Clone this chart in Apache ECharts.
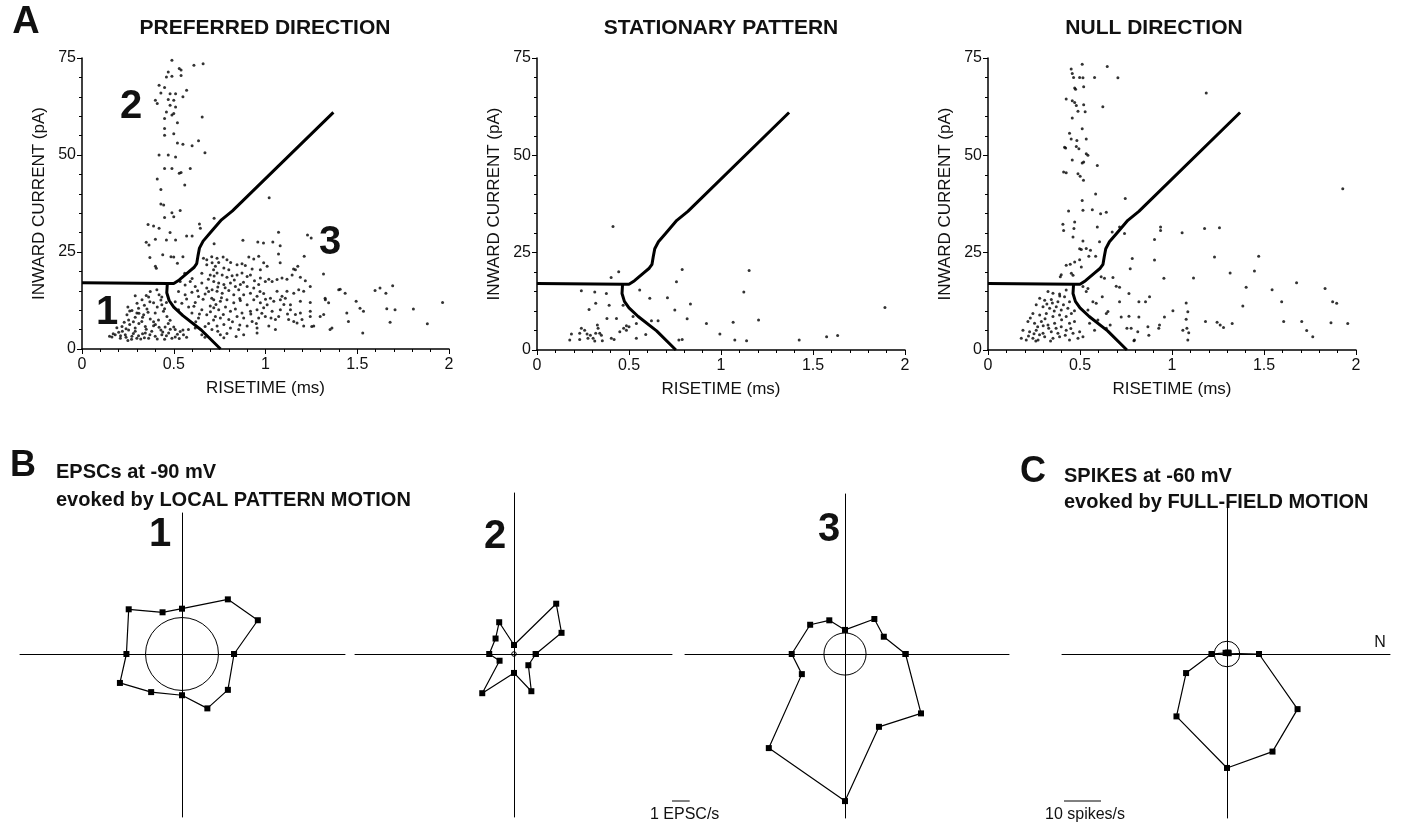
<!DOCTYPE html>
<html><head><meta charset="utf-8">
<script src="https://cdn.jsdelivr.net/npm/echarts@6.0.0/dist/echarts.min.js"></script>
<style>html,body{margin:0;padding:0;background:#fff}#c{width:1402px;height:822px}</style>
</head><body><div id="c"></div><script>
// ---------- DATA ----------
const xTickLabels = ['0', '0.5', '1', '1.5', '2'];
const yTickLabels = ['0', '25', '50', '75'];
const panelTitles = ['PREFERRED DIRECTION', 'STATIONARY PATTERN', 'NULL DIRECTION'];

// EPSC events: [risetime ms, inward current pA]
const preferredPts = [
 [0.49,74.4],[0.61,73.1],[0.66,73.5],[0.53,72.3],[0.54,71.9],[0.47,71.4],[0.49,70.3],[0.54,70.5],[0.46,70.1],[0.42,68],[0.45,67.4],[0.57,66.7],[0.43,66],[0.48,65.8],[0.51,65.8],[0.55,65],[0.40,64.1],[0.41,63.3],[0.47,64.3],[0.50,64.1],[0.48,62.8],[0.51,62.4],[0.46,61.1],[0.50,60.7],[0.655,59.8],[0.45,59.4],[0.49,60.3],[0.52,58.3],[0.45,56.8],[0.50,55.5],[0.45,55.1],[0.52,53.1],[0.55,52.8],[0.60,52.4],[0.635,53.7],[0.67,50.6],[0.42,50],[0.47,50],[0.51,49.5],[0.45,46.5],[0.49,46.5],[0.53,45.3],[0.54,45.5],[0.59,46.5],[0.56,42.3],[0.41,43.8],[0.43,41.1],[0.43,37.4],[0.445,37.1],[0.535,35.7],[0.49,35.1],[0.50,34.1],[0.45,33.9],[0.36,32.1],[0.39,31.7],[0.42,31.1],[0.48,30],[0.57,29.1],[0.60,29.1],[0.64,32.2],[0.645,31.1],[0.72,33.7],[0.35,27.5],[0.365,26.8],[0.40,28.3],[0.46,28.1],[0.51,28.1],[0.37,23.6],[0.44,24.3],[0.485,23.8],[0.50,23.7],[0.55,23.8],[0.405,20.8],[0.52,22.1],[0.40,21.3],
 [1.02,39],[0.68,23],[1.071,30.1],[0.877,28],[0.958,27.6],[0.989,27.3],[1.04,27.6],[1.08,26.6],[1.229,29.4],[1.249,28.6],[0.72,27.1],[1.071,24.5],[1.08,22.2],[1.211,23.9],[1.176,21.3],[1.153,20.6],[1.316,19.3],
 [0.736,23.4],[0.769,23.7],[0.79,23.0],[0.81,22.3],[0.845,21.7],[0.872,22.0],[0.89,21.5],[0.909,23.7],[0.936,23.2],[0.963,23.9],[0.99,22.2],[1.009,21.3],[0.972,20.4],[0.927,20.6],[0.709,22.2],[0.727,21.3],[0.745,22.3],
 [0.773,20.9],[0.80,20.4],[0.736,19.6],[0.764,19.1],[0.79,18.5],[0.818,18.9],[0.845,19.1],[0.872,19.6],[0.90,18.7],[0.918,19.1],[0.972,18.3],[0.999,17.4],[1.018,18.0],[1.036,17.4],[1.063,17.9],[1.09,18.3],[1.117,18.0],[1.145,19.1],[1.163,20.4],[1.19,18.5],[1.217,17.6],
 [0.718,17.4],[0.745,17.0],[0.773,16.6],[0.809,17.0],[0.836,16.1],[0.863,16.6],[0.90,16.1],[0.936,15.7],[0.963,16.6],[0.709,15.3],[0.736,14.9],[0.764,14.4],[0.80,15.1],[0.827,14.0],[0.854,15.3],[0.881,14.0],[0.918,14.4],[0.954,13.6],[0.99,14.3],[1.027,13.1],[1.063,14.9],[1.09,13.6],[1.117,14.9],[1.154,14.4],[1.181,15.3],[1.208,14.9],[1.244,16.1],
 [0.718,12.7],[0.754,12.3],[0.79,12.7],[0.827,11.9],[0.863,12.5],[0.90,11.4],[0.936,12.7],[0.972,11.9],[1.009,11.4],[1.045,12.3],[1.081,12.7],[1.108,13.1],[1.136,11.4],[1.19,12.3],[1.244,12.0],[1.326,12.7],[1.344,11.9],[1.399,15.3],
 [0.718,10.6],[0.745,10.1],[0.782,10.8],[0.809,9.7],[0.836,10.3],[0.872,9.3],[0.918,9.7],[0.954,10.1],[0.99,10.6],[1.036,9.7],[1.081,10.1],[1.136,10.1],[1.163,8.9],[1.19,9.3],[1.244,9.7],[1.317,8.9],
 [0.727,8.4],[0.754,8.0],[0.80,7.6],[0.845,8.4],[0.881,8.0],[0.927,7.1],[0.963,8.0],[0.999,8.4],[1.054,7.6],[1.072,8.4],[1.126,7.6],[1.154,7.1],[1.199,7.6],[1.244,8.4],
 [0.736,5.9],[0.773,6.3],[0.809,5.4],[0.854,5.0],[0.90,5.9],[0.954,5.4],[1.018,5.9],[1.054,5.0],[1.172,6.7],[1.208,5.9],[1.263,5.9],[1.362,5.4],
 [0.754,3.7],[0.773,2.9],[0.881,3.7],[0.954,4.1],
 [0.535,17.4],[0.562,16.5],[0.59,17.4],[0.617,16.1],[0.653,17.0],[0.689,18.0],[0.68,15.7],[0.526,14.8],[0.562,14.0],[0.599,14.6],[0.635,13.5],[0.671,14.2],[0.707,13.1],[0.508,12.2],[0.544,11.8],[0.581,10.8],[0.617,12.0],[0.653,10.1],[0.699,11.1],[0.526,10.1],[0.599,9.3],[0.635,8.0],[0.68,8.8],[0.717,7.5],[0.671,5.8],[0.708,5.0],[0.617,5.4],[0.653,3.7],
 [0.662,23.4],[0.707,23.8],[0.68,21.7],[0.717,20.4],[0.653,19.5],[0.699,19.1],
 [0.56,19.5],[0.60,18.2],[0.63,15.0],[0.66,12.8],[0.69,14.8],[0.72,18.8],[0.74,16.0],[0.57,12.9],[0.61,11.0],[0.64,9.0],[0.70,9.6],[0.73,11.5],[0.76,13.2],[0.78,15.8],[0.83,17.8],[0.86,13.0],[0.88,17.2],[0.94,17.6],[0.97,14.8],[1.00,12.8],[0.77,8.9],[0.82,7.0],[0.86,6.2],[0.92,9.0],[0.95,6.6],[0.98,9.2],[1.03,8.0],[1.10,11.5],[1.12,9.0],[0.69,6.6],[0.74,4.6],[0.79,4.0],[0.67,3.0],[0.84,3.2],[0.62,7.0],
 [0.372,14.8],[0.408,15.3],[0.29,13.7],[0.327,12.7],[0.363,13.4],[0.435,13.4],[0.308,10.5],[0.354,10.3],[0.272,9.9],[0.299,9.3],[0.245,8.8],[0.435,11.4],[0.444,9.7],[0.399,9.3],[0.336,8.8],[0.29,8.2],[0.254,7.5],[0.372,7.7],[0.417,7.5],[0.463,8.4],[0.326,7.1],[0.218,5.8],[0.254,4.9],[0.29,5.4],[0.345,5.8],[0.39,6.0],[0.453,5.7],[0.481,5.1],[0.508,5.0],[0.535,4.5],[0.236,3.7],[0.2,4.3],[0.272,3.3],[0.308,3.4],[0.345,4.1],[0.399,3.3],[0.435,3.7],[0.472,4.1],[0.508,3.1],[0.553,3.7],[0.58,5.0],[0.163,3.1],[0.181,3.7],[0.209,2.8],[0.299,2.8],[0.363,2.8],[0.49,2.8],
 [0.22,4.6],[0.24,5.2],[0.26,6.3],[0.28,4.0],[0.31,6.6],[0.33,3.9],[0.35,5.1],[0.38,4.6],[0.40,6.3],[0.42,5.6],[0.44,4.4],[0.47,6.6],[0.50,5.7],[0.52,3.8],[0.55,4.9],[0.57,3.0],[0.24,3.0],[0.27,2.5],[0.32,2.6],[0.45,2.5],[0.53,2.7],[0.30,11.8],[0.34,11.3],[0.37,12.2],[0.41,10.8],[0.39,11.9],[0.43,12.6],[0.28,7.0],[0.33,8.2],[0.36,9.5],[0.45,10.4],[0.26,9.8],[0.23,6.9],[0.19,5.5],[0.17,3.9],[0.15,3.3],
 [0.21,3.4],[0.25,2.2],[0.29,4.6],[0.34,2.9],[0.37,3.7],[0.41,2.6],[0.43,4.9],[0.46,3.4],[0.48,7.4],[0.39,7.0],[0.31,9.2],[0.25,10.8],[0.35,13.8],[0.42,14.0],[0.46,12.0],
 [1.407,15.4],[1.434,14.4],[1.443,9.3],[1.452,7.1],[1.494,12.3],[1.515,10.5],[1.534,9.7],[1.53,4.1],[1.597,15.1],[1.624,15.7],[1.656,14.4],[1.661,10.4],[1.693,16.3],[1.706,10.1],[1.679,6.9],[1.806,10.3],[1.882,6.5],[1.965,12.0],[1.352,5.0],[1.252,5.8],[1.298,8.4],[1.325,13.1]
];

const stationaryPts = [
 [0.413,31.7],[0.444,20.1],[0.403,18.6],[0.241,15.2],[0.314,14.9],[0.377,14.5],[0.319,12.0],[0.392,11.5],[0.468,11.5],[0.283,10.4],[0.38,8.1],[0.432,8.1],[0.522,8.6],[0.558,15.4],[0.613,13.3],[0.709,13.4],[0.622,7.5],[0.658,7.5],[0.54,6.8],[0.5,6.0],[0.486,5.1],[0.45,4.7],[0.471,5.6],[0.591,4.0],[0.54,3.0],[0.241,5.6],[0.259,5.1],[0.328,6.4],[0.332,5.6],[0.187,4.1],[0.232,4.3],[0.272,4.1],[0.29,3.8],[0.319,4.3],[0.341,4.3],[0.35,3.8],[0.305,3.0],[0.178,2.6],[0.232,2.7],[0.277,3.0],[0.314,2.3],[0.355,2.4],[0.404,3.0],[0.419,2.7],[0.758,17.5],[0.789,20.7],[0.749,10.3],[0.834,11.8],[0.816,8.0],[0.771,2.6],[0.789,2.7],[0.921,6.8],[0.994,4.1],[1.066,7.1],[1.075,2.6],[1.139,2.4],[1.124,14.9],[1.153,20.4],[1.204,7.7],[1.425,2.6],[1.574,3.4],[1.634,3.7],[1.891,10.9],[0.486,6.2]
];

const nullPts = [
 [0.429,76.0],[0.452,72.2],[0.512,73.4],[0.648,72.8],[0.458,71.0],[0.465,70.0],[0.498,70.0],[0.516,69.9],[0.579,70.0],[0.706,69.9],[0.471,67.3],[0.476,67.0],[0.52,67.6],[1.186,66.0],[0.425,64.5],[0.458,64.0],[0.471,63.6],[0.48,62.8],[0.52,63.0],[0.624,62.5],[0.489,61.3],[0.528,61.2],[0.458,59.6],[0.512,56.8],[0.443,55.7],[0.452,54.2],[0.483,53.8],[0.534,54.2],[0.416,52.1],[0.422,51.9],[0.48,52.3],[0.494,51.7],[0.534,50.4],[0.543,50.0],[0.458,48.8],[0.512,48.0],[0.52,48.3],[0.594,47.4],[0.411,45.7],[0.425,45.5],[0.489,45.3],[0.501,44.6],[0.519,43.6],[0.585,40.1],[0.512,38.4],[0.746,38.9],[0.438,35.7],[0.516,35.9],[0.567,36.0],[0.612,35.0],[0.643,35.4],[0.407,32.3],[0.411,30.7],[0.471,32.9],[0.467,31.2],[0.594,31.6],[0.675,30.3],[0.715,31.6],[0.742,29.9],[0.462,29.0],[0.516,28.0],[0.606,27.8],[0.498,26.0],[0.507,25.8],[0.557,25.6],[0.548,24.1],[0.585,24.1],[0.498,23.2],[0.425,21.8],[0.447,22.0],[0.471,22.6],[0.507,21.3],[0.393,18.8],[0.462,19.2],[0.398,19.3],[0.453,19.7],[0.534,26.1],
 [0.938,31.6],[0.938,30.7],[1.055,30.1],[1.177,31.2],[1.258,31.4],[0.905,28.4],[0.905,23.1],[0.784,23.5],[0.773,20.9],[1.231,23.9],[1.471,24.1],[1.316,19.8],[1.448,20.3],[0.956,18.4],[1.117,18.5],[1.403,16.1],[1.544,15.5],[1.677,17.3],[1.832,15.8],[1.873,12.4],[1.895,12.0],[1.928,41.4],[1.596,12.4],[1.385,11.3],[1.005,10.1],[1.077,12.1],[1.086,9.8],[1.077,7.9],[1.081,5.6],[1.091,4.4],[1.086,2.6],[1.059,5.1],[1.182,7.3],[1.245,7.1],[1.262,6.4],[1.28,5.8],[1.327,6.8],[1.607,7.3],[1.705,7.3],[1.732,5.0],[1.765,3.4],[1.864,7.0],[1.955,6.8],
 [0.615,18.8],[0.633,18.4],[0.679,18.6],[0.697,16.4],[0.715,16.1],[0.766,14.5],[0.82,12.4],[0.856,12.4],[0.878,13.7],[0.621,13.7],[0.588,12.0],[0.643,9.4],[0.715,12.4],[0.724,8.5],[0.766,8.7],[0.82,8.5],[0.664,6.4],[0.778,5.6],[0.814,4.7],[0.869,6.0],[0.874,3.8],[0.932,6.4],[0.928,5.6],[0.793,2.4],[0.959,8.5],[0.543,15.8],[0.516,16.3],[0.534,15.0],[0.57,12.4],[0.543,10.3],[0.597,7.7],[0.552,6.9],[0.579,5.1],[0.652,9.9],[0.755,5.6],[0.643,5.6],[0.796,2.6],
 [0.326,15.0],[0.353,14.6],[0.389,14.4],[0.425,15.4],[0.281,13.3],[0.308,12.8],[0.344,13.0],[0.38,12.4],[0.416,13.7],[0.443,12.4],[0.262,11.6],[0.299,11.1],[0.335,10.7],[0.371,11.1],[0.398,10.3],[0.434,10.7],[0.244,9.4],[0.281,9.0],[0.317,9.4],[0.353,8.6],[0.389,9.0],[0.425,8.6],[0.453,9.4],[0.217,7.3],[0.253,6.9],[0.29,7.3],[0.326,6.4],[0.362,6.9],[0.398,6.0],[0.443,6.9],[0.47,7.3],[0.19,5.1],[0.226,4.7],[0.262,5.1],[0.299,4.3],[0.344,4.7],[0.38,4.3],[0.425,5.1],[0.462,4.3],[0.498,4.7],[0.181,3.0],[0.208,2.6],[0.244,3.0],[0.272,2.6],[0.308,3.4],[0.353,3.0],[0.389,3.4],[0.443,2.6],[0.489,3.0],[0.516,3.4],
 [0.23,8.2],[0.27,6.0],[0.31,8.0],[0.33,5.6],[0.36,10.0],[0.40,7.8],[0.28,3.9],[0.32,11.8],[0.37,5.6],[0.41,11.6],[0.45,5.5],[0.22,3.6],[0.25,4.2],[0.30,6.2],[0.35,12.1],[0.42,3.8],[0.47,10.1],[0.39,13.9],[0.26,2.3],[0.34,2.3]
];

// decision boundaries [risetime, current]
const boundaryUpper = [[0,17.1],[0.47,16.9],[0.50,16.9],[0.53,17.8],[0.58,19.8],[0.61,21.0],[0.625,22.0],[0.632,24.0],[0.64,26.0],[0.66,27.8],[0.70,30.0],[0.76,33.3],[0.82,35.6],[1.37,61.0]];
const boundaryLower = [[0.465,16.9],[0.462,14.5],[0.475,12.5],[0.50,10.8],[0.55,8.6],[0.65,4.9],[0.755,0]];

// polar tuning: plotted directions (deg) and rates
const directionsDeg = [0, 24, 50, 90, 115, 140, 180, 205, 231, 270, 295, 322];
const rateB1 = [2.94, 4.69, 4.03, 2.56, 2.60, 3.93, 3.14, 3.87, 2.77, 2.33, 3.39, 3.29]; // EPSC/s
const rateB2 = [1.23, 2.94, 3.71, 0.51, 1.98, 1.36, 1.40, 0.90, 2.85, 1.07, 2.32, 1.03];
const rateB3 = [3.42, 2.40, 2.58, 1.36, 2.10, 2.57, 3.01, 2.69, 6.84, 8.31, 4.54, 5.45];
const spikesC = [8.65, 0.5, 0.5, 0.3, 0.3, 0.5, 4.2, 12.2, 21.7, 30.8, 29.1, 24.2]; // spikes/s
const spontRates = [2.06, 0.13, 1.19, 3.45];
const scaleBars = [{value: 1, label: '1 EPSC/s'}, {value: 10, label: '10 spikes/s'}];

// ---------- LAYOUT ----------
const FONT = "'Liberation Sans', Arial, sans-serif";
const topGrids = [
  {left: 82, top: 58, width: 367, height: 291},
  {left: 537, top: 58, width: 368, height: 292},
  {left: 988, top: 58, width: 368, height: 292}
];
const titleX = [265, 721, 1154];
const PPU_B = 17.7, PPU_C = 3.7;
const polarLayout = [
  {cx: 182, cy: 654, l: 20, r: 345, t: 513, b: 817, ppu: PPU_B},
  {cx: 514, cy: 654, l: 355, r: 672, t: 493, b: 817, ppu: PPU_B},
  {cx: 845, cy: 654, l: 685, r: 1009, t: 494, b: 818, ppu: PPU_B},
  {cx: 1227, cy: 654, l: 1062, r: 1390, t: 504, b: 818, ppu: PPU_C}
];
const polarRates = [rateB1, rateB2, rateB3, spikesC];

const grid = [], xAxis = [], yAxis = [], series = [];
const ptSets = [preferredPts, stationaryPts, nullPts];

topGrids.forEach((g, i) => {
  grid.push(Object.assign({containLabel: false}, g));
  xAxis.push({
    gridIndex: i, type: 'value', min: 0, max: 2, interval: 0.5,
    name: 'RISETIME (ms)', nameLocation: 'middle', nameGap: 31,
    nameTextStyle: {fontSize: 17, color: '#111', fontFamily: FONT},
    axisLine: {onZero: false, lineStyle: {color: '#000', width: 1.5}},
    axisTick: {show: true, length: 5, lineStyle: {color: '#000', width: 1}},
    minorTick: {show: true, splitNumber: 5, length: 3, lineStyle: {color: '#000', width: 1}},
    splitLine: {show: false},
    axisLabel: {fontSize: 16, color: '#111', fontFamily: FONT, margin: 8,
      formatter: v => xTickLabels[Math.round(v / 0.5)]}
  });
  yAxis.push({
    gridIndex: i, type: 'value', min: 0, max: 75, interval: 25,
    name: 'INWARD CURRENT (pA)', nameLocation: 'middle', nameGap: 34, nameRotate: 90,
    nameTextStyle: {fontSize: 17, color: '#111', fontFamily: FONT},
    axisLine: {onZero: false, lineStyle: {color: '#000', width: 1.5}},
    axisTick: {show: true, length: 5, lineStyle: {color: '#000', width: 1}},
    minorTick: {show: true, splitNumber: 5, length: 3, lineStyle: {color: '#000', width: 1}},
    splitLine: {show: false},
    axisLabel: {fontSize: 16, color: '#111', fontFamily: FONT, margin: 6,
      formatter: v => yTickLabels[Math.round(v / 25)]}
  });
  series.push({
    type: 'scatter', xAxisIndex: i, yAxisIndex: i, data: ptSets[i],
    symbol: 'circle', symbolSize: 3, itemStyle: {color: '#000'}, silent: true
  });
  series.push({
    type: 'line', xAxisIndex: i, yAxisIndex: i, data: boundaryUpper, showSymbol: false,
    lineStyle: {color: '#000', width: 3}, silent: true, z: 5
  });
  series.push({
    type: 'line', xAxisIndex: i, yAxisIndex: i, data: boundaryLower, showSymbol: false,
    lineStyle: {color: '#000', width: 3}, silent: true, z: 5
  });
});

polarLayout.forEach((p, k) => {
  const gi = 3 + k;
  grid.push({left: p.l, top: p.t, width: p.r - p.l, height: p.b - p.t, containLabel: false});
  const hidden = {show: false};
  xAxis.push({gridIndex: gi, type: 'value', min: (p.l - p.cx) / p.ppu, max: (p.r - p.cx) / p.ppu,
    axisLine: {onZero: true, lineStyle: {color: '#000', width: 1}}, axisTick: hidden, axisLabel: hidden, splitLine: hidden});
  yAxis.push({gridIndex: gi, type: 'value', min: (p.cy - p.b) / p.ppu, max: (p.cy - p.t) / p.ppu,
    axisLine: {onZero: true, lineStyle: {color: '#000', width: 1}}, axisTick: hidden, axisLabel: hidden, splitLine: hidden});
  const rates = polarRates[k];
  const pts = directionsDeg.map((d, i) => [rates[i] * Math.cos(d * Math.PI / 180), rates[i] * Math.sin(d * Math.PI / 180)]);
  pts.push(pts[0]);
  series.push({
    type: 'line', xAxisIndex: gi, yAxisIndex: gi, data: pts, symbol: 'rect', symbolSize: 6,
    showAllSymbol: true, lineStyle: {color: '#000', width: 1.2}, itemStyle: {color: '#000'}, silent: true, z: 4
  });
  series.push({
    type: 'custom', xAxisIndex: gi, yAxisIndex: gi, data: [[spontRates[k], 0]], silent: true, clip: false, z: 3,
    renderItem: (params, api) => {
      const c = api.coord([0, 0]);
      const e = api.coord([api.value(0), 0]);
      return {type: 'circle', shape: {cx: c[0], cy: c[1], r: Math.abs(e[0] - c[0])},
        style: {fill: 'none', stroke: '#000', lineWidth: 1}};
    }
  });
});

function txt(x, y, text, font, align) {
  return {type: 'text', x: x, y: y, silent: true,
    style: {text: text, font: font, fill: '#111', align: align || 'center', verticalAlign: 'middle',
      textAlign: align || 'center', textVerticalAlign: 'middle'}};
}
const graphics = [
  txt(26, 23, 'A', 'bold 38px ' + FONT),
  txt(titleX[0], 28, panelTitles[0], 'bold 21px ' + FONT),
  txt(titleX[1], 28, panelTitles[1], 'bold 21px ' + FONT),
  txt(titleX[2], 28, panelTitles[2], 'bold 21px ' + FONT),
  txt(131, 107, '2', 'bold 40px ' + FONT),
  txt(330, 243, '3', 'bold 40px ' + FONT),
  txt(107, 313, '1', 'bold 40px ' + FONT),
  txt(23, 466, 'B', 'bold 36px ' + FONT),
  txt(56, 472, 'EPSCs at -90 mV', 'bold 20px ' + FONT, 'left'),
  txt(56, 500, 'evoked by LOCAL PATTERN MOTION', 'bold 20px ' + FONT, 'left'),
  txt(160, 535, '1', 'bold 40px ' + FONT),
  txt(495, 537, '2', 'bold 40px ' + FONT),
  txt(829, 530, '3', 'bold 40px ' + FONT),
  txt(1033, 472, 'C', 'bold 36px ' + FONT),
  txt(1064, 476, 'SPIKES at -60 mV', 'bold 20px ' + FONT, 'left'),
  txt(1064, 502, 'evoked by FULL-FIELD MOTION', 'bold 20px ' + FONT, 'left'),
  txt(1380, 643, 'N', '16px ' + FONT),
  txt(650, 815, scaleBars[0].label, '16px ' + FONT, 'left'),
  txt(1045, 815, scaleBars[1].label, '16px ' + FONT, 'left'),
  {type: 'line', silent: true, shape: {x1: 672, y1: 801, x2: 672 + scaleBars[0].value * PPU_B, y2: 801}, style: {stroke: '#000', lineWidth: 1}},
  {type: 'line', silent: true, shape: {x1: 1064, y1: 801, x2: 1064 + scaleBars[1].value * PPU_C, y2: 801}, style: {stroke: '#000', lineWidth: 1}}
];

const chart = echarts.init(document.getElementById('c'), null, {renderer: 'canvas'});
chart.setOption({
  backgroundColor: '#fff', animation: false,
  textStyle: {fontFamily: FONT},
  grid: grid, xAxis: xAxis, yAxis: yAxis, series: series, graphic: graphics
});
</script></body></html>
